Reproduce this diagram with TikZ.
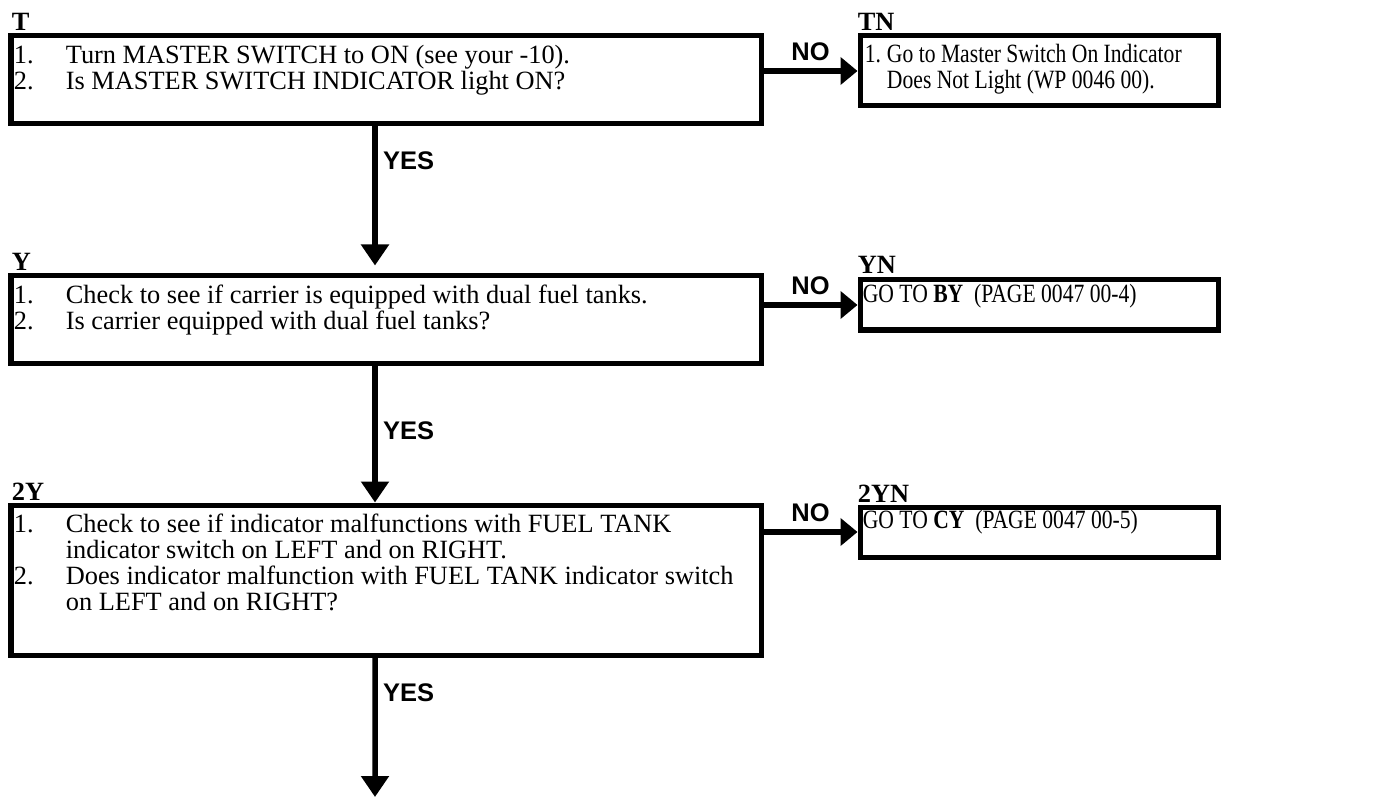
\documentclass[tikz,border=0pt]{standalone}
\usepackage{graphicx}
\usepackage{fontspec}
\setmainfont{Liberation Serif}
\newfontfamily\flowsans{Liberation Sans}
\usetikzlibrary{arrows.meta, calc}
\newcommand{\narrowtext}[1]{\scalebox{0.82}[1]{#1}}

\begin{document}
\begin{tikzpicture}[
    stepbox/.style={rectangle, draw=black, line width=0.1cm, minimum width=15.0cm, inner sep=0pt},
    gotobox/.style={rectangle, draw=black, line width=0.1cm, minimum width=7.16cm, inner sep=0pt},
    boxtag/.style={font=\fontsize{15}{15}\selectfont\bfseries, anchor=base west, inner sep=0pt},
    steptext/.style={font=\fontsize{15}{14.35}\selectfont, anchor=base west, inner sep=0pt},
    gototext/.style={font=\fontsize{15}{14.7}\selectfont, anchor=base west, inner sep=0pt},
    yesflow/.style={-{Triangle[length=0.42cm, width=0.54cm]}, line width=0.11cm},
    noflow/.style={-{Triangle[length=0.34cm, width=0.54cm]}, line width=0.11cm},
    flowlabel/.style={font=\flowsans\fontsize{14.5}{14.5}\selectfont\bfseries, inner sep=1pt}
]
\useasboundingbox (0,0) rectangle (27.56,-15.94);

% step boxes and their NO targets
\node[stepbox, minimum height=1.76cm] (master) at (7.72,-1.6) {};
\node[gotobox, minimum height=1.4cm] (masterNote) at (20.78,-1.42) {};
\node[stepbox, minimum height=1.76cm] (carrier) at (7.72,-6.4) {};
\node[gotobox, minimum height=1.0cm] (carrierGoto) at (20.78,-6.1) {};
\node[stepbox, minimum height=3.0cm] (fuelInd) at (7.72,-11.6) {};
\node[gotobox, minimum height=1.0cm] (fuelIndGoto) at (20.78,-10.64) {};

\node[boxtag] (masterTag) at ([xshift=0.06cm,yshift=0.06cm]master.north west) {T};
\node[boxtag] (masterNoteTag) at ([yshift=0.06cm]masterNote.north west) {TN};
\node[boxtag] (carrierTag) at ([xshift=0.06cm,yshift=0.06cm]carrier.north west) {Y};
\node[boxtag] (carrierGotoTag) at ([yshift=0.08cm]carrierGoto.north west) {YN};
\node[boxtag] (fuelIndTag) at ([xshift=0.06cm,yshift=0.04cm]fuelInd.north west) {2Y};
\node[boxtag] (fuelIndGotoTag) at ([yshift=0.04cm]fuelIndGoto.north west) {2YN};

\node[steptext] (masterText) at ([xshift=0.1cm,yshift=-0.6cm]master.north west) {%
  \begin{tabular}[t]{@{}p{1.04cm}@{}l@{}}
  1. & Turn MASTER SWITCH to ON (see your -10).\\
  2. & Is MASTER SWITCH INDICATOR light ON?
  \end{tabular}};
\node[gototext] (masterNoteText) at ([xshift=0.14cm,yshift=-0.58cm]masterNote.north west) {%
  \narrowtext{\begin{tabular}[t]{@{}p{0.54cm}@{}l@{}}
  1. & Go to Master Switch On Indicator\\
     & Does Not Light (WP 0046 00).
  \end{tabular}}};
\node[steptext] (carrierText) at ([xshift=0.1cm,yshift=-0.6cm]carrier.north west) {%
  \begin{tabular}[t]{@{}p{1.04cm}@{}l@{}}
  1. & Check to see if carrier is equipped with dual fuel tanks.\\
  2. & Is carrier equipped with dual fuel tanks?
  \end{tabular}};
\node[gototext] (carrierGotoText) at ([xshift=0.1cm,yshift=-0.5cm]carrierGoto.north west)
  {\narrowtext{GO TO \textbf{BY}\ \ (PAGE 0047 00-4)}};
\node[steptext] (fuelIndText) at ([xshift=0.1cm,yshift=-0.6cm]fuelInd.north west) {%
  \begin{tabular}[t]{@{}p{1.04cm}@{}l@{}}
  1. & Check to see if indicator malfunctions with FUEL TANK\\
     & indicator switch on LEFT and on RIGHT.\\
  2. & Does indicator malfunction with FUEL TANK indicator switch\\
     & on LEFT and on RIGHT?
  \end{tabular}};
\node[gototext] (fuelIndGotoText) at ([xshift=0.1cm,yshift=-0.48cm]fuelIndGoto.north west)
  {\narrowtext{GO TO \textbf{CY}\ \ (PAGE 0047 00-5)}};

% NO branches
\draw[noflow] (master.east |- masterNote.west) --
    node[flowlabel, above, yshift=3pt] (noMaster) {NO} (masterNote.west);
\draw[noflow] (carrier.east |- carrierGoto.west) --
    node[flowlabel, above, yshift=3pt] (noCarrier) {NO} (carrierGoto.west);
\draw[noflow] (fuelInd.east |- fuelIndGoto.west) --
    node[flowlabel, above, yshift=3pt] (noFuelInd) {NO} (fuelIndGoto.west);

% YES branches
\draw[yesflow, shorten >=0.16cm] ([xshift=-0.22cm]master.south) --
    node[flowlabel, right, pos=0.23, xshift=2pt] (yesMaster) {YES} ([xshift=-0.22cm]carrier.north);
\draw[yesflow] ([xshift=-0.22cm]carrier.south) --
    node[flowlabel, right, pos=0.47, xshift=2pt] (yesCarrier) {YES} ([xshift=-0.22cm]fuelInd.north);
\coordinate (exit) at (7.5,-15.94);
\draw[yesflow] ([xshift=-0.22cm]fuelInd.south) --
    node[flowlabel, right, pos=0.25, xshift=2pt] (yesFuelInd) {YES} (exit);
\end{tikzpicture}
\end{document}
